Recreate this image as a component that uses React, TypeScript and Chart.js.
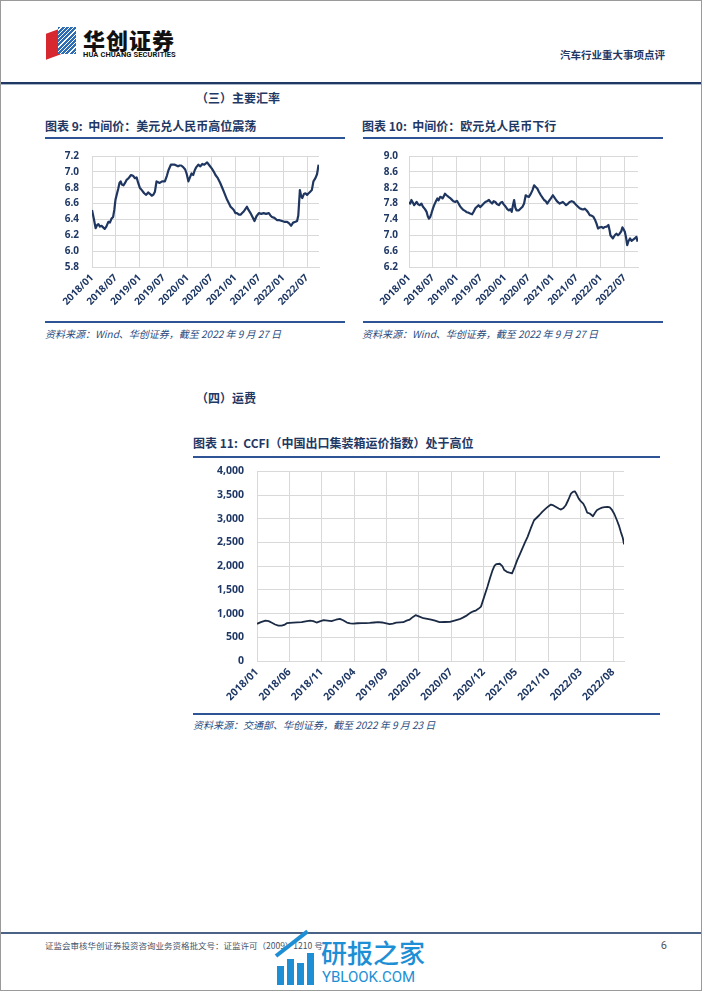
import React, { useEffect, useRef } from "react";
import { Chart, registerables } from "chart.js";

Chart.register(...registerables);

// ---------- DATA ----------
// x = months since 2018/01
const usdMonths = [0, 0.5, 0.9, 1.3, 1.6, 2.0, 2.4, 2.8, 3.2, 3.6, 4.1, 4.5, 4.9, 5.3, 5.6, 5.9, 6.3, 6.6, 6.9, 7.2, 7.5, 7.9, 8.3, 8.7, 9.2, 9.8, 10.3, 10.8, 11.2, 11.6, 12.0, 12.5, 13.1, 13.6, 14.1, 14.6, 15.0, 15.4, 15.8, 16.2, 16.6, 17.0, 17.6, 18.3, 18.8, 19.2, 19.8, 20.3, 20.8, 21.2, 21.6, 22.0, 22.4, 22.9, 23.4, 23.8, 24.2, 24.6, 25.0, 25.4, 25.8, 26.2, 26.7, 27.2, 27.7, 28.2, 28.9, 29.5, 30.1, 30.6, 31.0, 31.6, 32.2, 32.7, 33.1, 33.5, 33.9, 34.4, 34.8, 35.2, 35.6, 36.0, 36.4, 36.9, 37.3, 37.7, 38.1, 38.5, 38.9, 39.3, 39.8, 40.3, 40.8, 41.3, 41.9, 42.5, 43.1, 43.7, 44.4, 44.8, 45.2, 45.8, 46.5, 47.1, 47.7, 48.3, 49.0, 49.5, 50.0, 50.5, 51.1, 51.5, 51.8, 52.2, 52.5, 52.8, 53.2, 53.6, 54.0, 54.4, 54.8, 55.2, 55.6, 56.1, 56.5, 56.9];
const usdRates = [6.52, 6.40, 6.29, 6.33, 6.34, 6.31, 6.32, 6.30, 6.28, 6.31, 6.37, 6.36, 6.41, 6.43, 6.52, 6.65, 6.73, 6.79, 6.86, 6.88, 6.84, 6.83, 6.86, 6.90, 6.92, 6.96, 6.95, 6.92, 6.93, 6.86, 6.80, 6.77, 6.73, 6.71, 6.74, 6.72, 6.70, 6.71, 6.75, 6.88, 6.87, 6.86, 6.88, 6.88, 6.95, 7.02, 7.09, 7.09, 7.09, 7.08, 7.07, 7.08, 7.08, 7.06, 7.03, 6.97, 6.88, 6.93, 6.98, 6.96, 7.02, 7.06, 7.09, 7.07, 7.10, 7.09, 7.12, 7.08, 7.04, 7.00, 6.96, 6.92, 6.86, 6.80, 6.75, 6.70, 6.65, 6.60, 6.56, 6.54, 6.52, 6.48, 6.48, 6.46, 6.46, 6.48, 6.50, 6.53, 6.56, 6.52, 6.48, 6.43, 6.38, 6.44, 6.48, 6.47, 6.48, 6.47, 6.48, 6.45, 6.43, 6.42, 6.39, 6.39, 6.38, 6.37, 6.37, 6.35, 6.32, 6.36, 6.37, 6.38, 6.45, 6.77, 6.70, 6.67, 6.72, 6.73, 6.71, 6.73, 6.75, 6.77, 6.88, 6.92, 6.97, 7.09];

const eurMonths = [0, 0.3, 0.6, 1.0, 1.3, 1.6, 1.9, 2.3, 2.7, 3.1, 3.5, 4.0, 4.4, 4.7, 5.0, 5.3, 5.6, 6.0, 6.3, 6.7, 7.1, 7.4, 7.8, 8.1, 8.4, 8.7, 9.0, 9.4, 9.9, 10.3, 10.7, 11.1, 11.6, 12.0, 12.4, 12.8, 13.2, 13.6, 14.1, 14.5, 14.9, 15.3, 15.8, 16.2, 16.6, 17.0, 17.4, 17.8, 18.3, 18.7, 19.1, 19.5, 20.0, 20.4, 20.8, 21.2, 21.6, 22.0, 22.5, 22.9, 23.3, 23.7, 24.2, 24.6, 25.0, 25.4, 25.7, 26.0, 26.3, 26.6, 26.9, 27.5, 28.0, 28.4, 28.8, 29.2, 29.6, 30.0, 30.5, 30.9, 31.3, 31.7, 32.1, 32.5, 33.0, 33.4, 33.8, 34.2, 34.6, 35.0, 35.5, 36.0, 36.4, 36.8, 37.2, 37.7, 38.1, 38.5, 38.9, 39.3, 39.8, 40.2, 40.7, 41.2, 41.5, 41.9, 42.3, 42.7, 43.2, 43.6, 44.0, 44.4, 44.8, 45.2, 45.6, 46.1, 46.5, 46.9, 47.3, 47.7, 48.2, 48.6, 49.0, 49.5, 49.9, 50.2, 50.4, 50.7, 51.0, 51.5, 51.9, 52.3, 52.7, 53.1, 53.4, 53.7, 54.0, 54.3, 54.6, 54.9, 55.3, 55.7, 56.1, 56.5, 56.9, 57.2];
const eurRates = [7.84, 7.80, 7.89, 7.82, 7.76, 7.80, 7.84, 7.78, 7.76, 7.80, 7.72, 7.66, 7.59, 7.48, 7.42, 7.46, 7.55, 7.68, 7.76, 7.85, 7.93, 7.88, 7.97, 7.96, 7.93, 7.98, 8.05, 8.01, 7.97, 7.94, 7.90, 7.86, 7.84, 7.87, 7.80, 7.73, 7.68, 7.64, 7.61, 7.58, 7.57, 7.55, 7.53, 7.60, 7.68, 7.72, 7.76, 7.71, 7.76, 7.80, 7.84, 7.86, 7.89, 7.84, 7.80, 7.86, 7.84, 7.79, 7.76, 7.82, 7.84, 7.78, 7.72, 7.66, 7.63, 7.66, 7.59, 7.75, 7.89, 7.70, 7.63, 7.63, 7.68, 7.72, 7.80, 8.01, 7.98, 7.97, 8.05, 8.14, 8.26, 8.22, 8.18, 8.10, 8.01, 7.95, 7.89, 7.86, 7.80, 7.86, 7.93, 8.01, 7.95, 7.89, 7.84, 7.80, 7.82, 7.84, 7.80, 7.76, 7.80, 7.84, 7.86, 7.84, 7.80, 7.76, 7.72, 7.68, 7.66, 7.65, 7.67, 7.63, 7.58, 7.51, 7.50, 7.47, 7.40, 7.30, 7.17, 7.20, 7.21, 7.18, 7.21, 7.22, 7.26, 7.12, 7.00, 6.96, 6.92, 7.00, 7.04, 7.00, 7.04, 7.10, 7.20, 7.15, 7.09, 6.95, 6.75, 6.85, 6.92, 6.86, 6.89, 6.92, 6.96, 6.84];

const ccfiMonths = [0, 0.6, 1.3, 1.8, 2.3, 2.8, 3.3, 3.8, 4.2, 4.6, 5.1, 5.6, 6.2, 6.9, 7.5, 8.2, 8.7, 9.2, 9.7, 10.3, 10.9, 11.5, 12.2, 12.8, 13.3, 13.9, 14.4, 14.9, 15.5, 16.2, 16.8, 17.4, 18.1, 18.7, 19.3, 19.8, 20.5, 21.0, 21.5, 22.1, 22.6, 23.1, 23.6, 24.1, 24.5, 25.1, 25.7, 26.3, 26.9, 27.5, 28.2, 29.0, 29.8, 30.5, 31.3, 31.8, 32.3, 32.7, 33.1, 33.5, 33.8, 34.2, 34.6, 35.1, 35.6, 36.0, 36.4, 36.7, 37.0, 37.5, 37.9, 38.2, 38.6, 39.0, 39.4, 39.8, 40.2, 40.6, 41.0, 41.4, 41.8, 42.3, 42.8, 43.2, 43.6, 44.1, 44.6, 45.0, 45.4, 45.8, 46.2, 46.6, 46.9, 47.3, 47.7, 48.1, 48.5, 48.8, 49.1, 49.4, 49.7, 50.0, 50.4, 50.7, 51.0, 51.4, 51.9, 52.2, 52.5, 52.9, 53.3, 53.7, 54.2, 54.5, 54.8, 55.2, 55.6, 55.9, 56.2, 56.5, 56.7];
const ccfiValues = [784, 820, 853, 840, 805, 770, 748, 745, 760, 798, 805, 811, 815, 818, 835, 853, 840, 811, 835, 860, 850, 839, 870, 889, 860, 811, 795, 790, 796, 798, 800, 804, 812, 818, 812, 798, 777, 790, 811, 815, 818, 850, 874, 930, 966, 935, 902, 890, 874, 850, 818, 822, 825, 850, 881, 915, 951, 990, 1028, 1050, 1064, 1100, 1147, 1357, 1567, 1750, 1918, 2010, 2044, 2051, 2000, 1918, 1880, 1862, 1848, 1980, 2128, 2250, 2374, 2500, 2618, 2800, 2968, 3020, 3073, 3150, 3214, 3260, 3298, 3280, 3248, 3215, 3193, 3220, 3284, 3400, 3529, 3565, 3578, 3510, 3424, 3370, 3319, 3240, 3130, 3110, 3052, 3120, 3178, 3210, 3235, 3245, 3248, 3240, 3193, 3100, 2968, 2860, 2723, 2600, 2458];

const fxTickMonths = [0, 6, 12, 18, 24, 30, 36, 42, 48, 54];
const fxTickLabels = ["2018/01", "2018/07", "2019/01", "2019/07", "2020/01", "2020/07", "2021/01", "2021/07", "2022/01", "2022/07"];
const ccfiTickMonths = [0, 5, 10, 15, 20, 25, 30, 35, 40, 45, 50, 55];
const ccfiTickLabels = ["2018/01", "2018/06", "2018/11", "2019/04", "2019/09", "2020/02", "2020/07", "2020/12", "2021/05", "2021/10", "2022/03", "2022/08"];

const usdYTicks = [5.8, 6.0, 6.2, 6.4, 6.6, 6.8, 7.0, 7.2];
const eurYTicks = [6.2, 6.6, 7.0, 7.4, 7.8, 8.2, 8.6, 9.0];
const ccfiYTicks = [0, 500, 1000, 1500, 2000, 2500, 3000, 3500, 4000];

// ---------- STYLE ----------
const NAVY = "#1F3864";
const RULE = "#2F5496";
const GRID = "#D9D9D9";
const CJK = '"Noto Sans CJK SC", "Noto Sans", sans-serif';

type LCProps = {
  left: number; plotTop: number; plotBottom: number; width: number;
  xs: number[]; ys: number[]; xMax: number;
  xTicks: number[]; xLabels: string[];
  yTicks: number[]; yFormat: (v: number) => string;
  yAxisWidth: number; xAxisHeight: number; yPad: number;
  lineColor: string; lineWidth: number; fontSize: number;
};

function LineChart(p: LCProps) {
  const ref = useRef<HTMLCanvasElement | null>(null);
  // Chart.js keeps (half label height + tick padding) above the plot for the y axis
  const topInset = (p.fontSize * 1.2) / 2 + p.yPad;
  const top = p.plotTop - topInset;
  const height = Math.round(p.plotBottom - top + p.xAxisHeight);
  useEffect(() => {
    if (!ref.current) return;
    const font = { family: '"Open Sans", "DejaVu Sans", sans-serif', size: p.fontSize, weight: "bold" as const };
    const chart = new Chart(ref.current, {
      type: "line",
      data: {
        datasets: [
          {
            data: p.xs.map((x, i) => ({ x, y: p.ys[i] })),
            borderColor: p.lineColor,
            borderWidth: p.lineWidth,
            pointRadius: 0,
            tension: 0,
            fill: false,
            borderJoinStyle: "round",
          },
        ],
      },
      options: {
        animation: false,
        responsive: false,
        devicePixelRatio: 1,
        layout: { padding: { top: 0, right: 2, left: 0, bottom: 0 } },
        plugins: { legend: { display: false }, tooltip: { enabled: false } },
        scales: {
          x: {
            type: "linear",
            min: 0,
            max: p.xMax,
            afterBuildTicks: (s: any) => {
              s.ticks = p.xTicks.map((v) => ({ value: v }));
            },
            afterFit: (s: any) => {
              s.height = p.xAxisHeight;
            },
            grid: { color: GRID, drawTicks: false, lineWidth: 1 },
            border: { color: GRID },
            ticks: {
              autoSkip: false,
              minRotation: 45,
              maxRotation: 45,
              padding: 5,
              color: NAVY,
              font,
              callback: (_v: any, i: number) => p.xLabels[i],
            },
          },
          y: {
            type: "linear",
            min: p.yTicks[0],
            max: p.yTicks[p.yTicks.length - 1],
            afterBuildTicks: (s: any) => {
              s.ticks = p.yTicks.map((v) => ({ value: v }));
            },
            afterFit: (s: any) => {
              s.width = p.yAxisWidth;
            },
            grid: { color: GRID, drawTicks: false, lineWidth: 1 },
            border: { color: GRID },
            ticks: {
              autoSkip: false,
              padding: p.yPad,
              color: NAVY,
              font,
              callback: (_v: any, i: number) => p.yFormat(p.yTicks[i]),
            },
          },
        },
      },
    });
    return () => chart.destroy();
  }, []);
  return (
    <canvas
      ref={ref}
      width={p.width}
      height={height}
      style={{ position: "absolute", left: p.left, top, width: p.width, height }}
    />
  );
}

function Txt(props: { x: number; cy: number; size: number; children: React.ReactNode; style?: React.CSSProperties; right?: boolean }) {
  const s: React.CSSProperties = {
    position: "absolute",
    top: props.cy - props.size / 2 - 1,
    fontSize: props.size,
    lineHeight: `${props.size + 2}px`,
    whiteSpace: "nowrap",
    fontFamily: CJK,
    ...(props.right ? { right: 702 - props.x } : { left: props.x }),
    ...props.style,
  };
  return <div style={s}>{props.children}</div>;
}

function Rule(props: { x: number; y: number; w: number; h?: number; c?: string }) {
  return (
    <div style={{ position: "absolute", left: props.x, top: props.y, width: props.w, height: props.h ?? 2, background: props.c ?? RULE }} />
  );
}

export default function App() {
  const bold: React.CSSProperties = { fontWeight: 700, color: NAVY };
  const src: React.CSSProperties = { fontStyle: "italic", color: "#2B4C7E" };
  return (
    <div style={{ position: "absolute", left: 0, top: 0, width: 702, height: 991, background: "#fff", overflow: "hidden" }}>
      {/* page frame */}
      <div style={{ position: "absolute", left: 0, top: 0, width: 700, height: 989, border: "1px solid #9a9a9a" }} />

      {/* header logo */}
      <div style={{ position: "absolute", left: 46, top: 31, width: 15, height: 26, background: "#D7282F", transform: "skewY(-20deg)" }} />
      <div
        style={{
          position: "absolute", left: 58, top: 27, width: 18, height: 27,
          background: "repeating-linear-gradient(135deg, #2E6DB4 0px, #2E6DB4 2px, #ffffff 2px, #ffffff 3px)",
        }}
      />
      <Txt x={83} cy={39} size={22} style={{ fontWeight: 900, color: "#111", letterSpacing: 1 }}>华创证券</Txt>
      <Txt x={83} cy={54.5} size={7.5} style={{ fontWeight: 700, color: "#111", fontFamily: "Roboto, sans-serif", letterSpacing: 0.1 }}>HUA CHUANG SECURITIES</Txt>
      <Txt x={665} cy={55} size={10.5} right style={bold}>汽车行业重大事项点评</Txt>
      <Rule x={1} y={82} w={700} h={2} c={NAVY} />
      <Rule x={1} y={84} w={700} h={1} c="#A9B6C8" />

      {/* section 3 */}
      <Txt x={196} cy={98} size={12} style={bold}>（三）主要汇率</Txt>

      {/* chart 9 */}
      <Txt x={45} cy={126} size={12} style={bold}>图表 9:&nbsp;&nbsp;中间价：美元兑人民币高位震荡</Txt>
      <Rule x={45} y={137} w={300} />
      <LineChart
        left={45} plotTop={156} plotBottom={267} width={276}
        xs={usdMonths} ys={usdRates} xMax={57}
        xTicks={fxTickMonths} xLabels={fxTickLabels}
        yTicks={usdYTicks} yFormat={(v) => v.toFixed(1)}
        yAxisWidth={47} xAxisHeight={45} yPad={13}
        lineColor="#1F3660" lineWidth={2.2} fontSize={10}
      />
      <Rule x={45} y={321} w={300} />
      <Txt x={45} cy={333.5} size={10} style={src}>资料来源：Wind、华创证券，截至 2022 年 9 月 27 日</Txt>

      {/* chart 10 */}
      <Txt x={362} cy={126} size={12} style={bold}>图表 10:&nbsp;&nbsp;中间价：欧元兑人民币下行</Txt>
      <Rule x={363} y={137} w={300} />
      <LineChart
        left={362} plotTop={156} plotBottom={267} width={278}
        xs={eurMonths} ys={eurRates} xMax={57.3}
        xTicks={fxTickMonths} xLabels={fxTickLabels}
        yTicks={eurYTicks} yFormat={(v) => v.toFixed(1)}
        yAxisWidth={47} xAxisHeight={45} yPad={11}
        lineColor="#1F3660" lineWidth={2.2} fontSize={10}
      />
      <Rule x={363} y={321} w={300} />
      <Txt x={362} cy={333.5} size={10} style={src}>资料来源：Wind、华创证券，截至 2022 年 9 月 27 日</Txt>

      {/* section 4 */}
      <Txt x={196} cy={398} size={12} style={bold}>（四）运费</Txt>

      {/* chart 11 */}
      <Txt x={193} cy={443} size={12} style={bold}>图表 11:&nbsp;&nbsp;CCFI（中国出口集装箱运价指数）处于高位</Txt>
      <Rule x={193} y={456} w={467} />
      <LineChart
        left={193} plotTop={471} plotBottom={661} width={434}
        xs={ccfiMonths} ys={ccfiValues} xMax={56.7}
        xTicks={ccfiTickMonths} xLabels={ccfiTickLabels}
        yTicks={ccfiYTicks} yFormat={(v) => v.toLocaleString("en-US")}
        yAxisWidth={64} xAxisHeight={48} yPad={13}
        lineColor="#1C2B45" lineWidth={1.8} fontSize={10.5}
      />
      <Rule x={193} y={713} w={467} />
      <Txt x={193} cy={725} size={10} style={src}>资料来源：交通部、华创证券，截至 2022 年 9 月 23 日</Txt>

      {/* footer */}
      <Rule x={1} y={932} w={700} h={2} c="#4A6285" />
      <Txt x={45} cy={945} size={8.5} style={{ color: "#44546A" }}>证监会审核华创证券投资咨询业务资格批文号：证监许可（2009）1210 号</Txt>
      <Txt x={667} cy={945} size={11} right style={{ color: "#555", fontFamily: "Roboto, sans-serif" }}>6</Txt>

      {/* watermark */}
      <div style={{ position: "absolute", left: 277, top: 966, width: 7, height: 19, background: "#1E8FD5" }} />
      <div style={{ position: "absolute", left: 287, top: 959, width: 7, height: 26, background: "#1E8FD5" }} />
      <div style={{ position: "absolute", left: 297, top: 963, width: 7, height: 22, background: "#1E8FD5" }} />
      <div style={{ position: "absolute", left: 307, top: 953, width: 7, height: 32, background: "#1E8FD5" }} />
      <div style={{ position: "absolute", left: 276, top: 954, width: 40, height: 4, background: "#1E8FD5", transform: "rotate(-38deg)", transformOrigin: "0 50%" }} />
      <Txt x={321} cy={952} size={26} style={{ color: "#1E8FD5", fontWeight: 500 }}>研报之家</Txt>
      <Txt x={322} cy={977} size={15} style={{ color: "#1E8FD5", fontFamily: "Roboto, sans-serif" }}>YBLOOK.COM</Txt>
    </div>
  );
}
